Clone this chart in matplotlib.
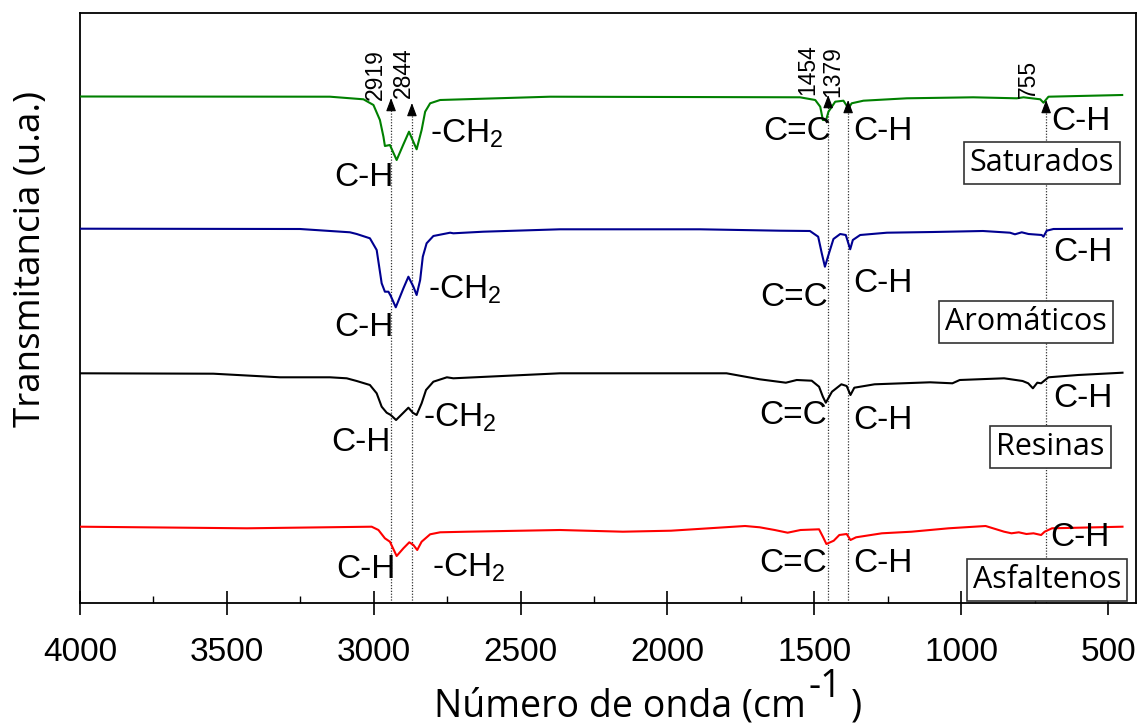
import matplotlib
matplotlib.use("Agg")
import matplotlib.pyplot as plt
from matplotlib.ticker import MultipleLocator

plt.rcParams["font.family"] = ["Liberation Sans", "DejaVu Sans"]
plt.rcParams["mathtext.fontset"] = "custom"
plt.rcParams["mathtext.rm"] = "Liberation Sans"
plt.rcParams["mathtext.it"] = "Liberation Sans:italic"

# Saturados (green)
sat_wn = [4000, 3149, 3035, 3001, 2979, 2967, 2962, 2945, 2922, 2900,
          2880, 2854, 2837, 2825, 2808, 2774, 2400, 1549, 1497, 1480,
          1471, 1460, 1452, 1429, 1401, 1384, 1373, 1333, 1185, 959,
          811, 788, 731, 720, 703, 452]
sat_t = [506.5, 506.3, 503.7, 498, 483, 466.3, 457, 458, 443, 458,
         471.3, 453.7, 473, 491.3, 499.7, 503, 506.3, 505.7, 503, 496.3,
         483, 483, 491.3, 501.3, 502.3, 494.7, 499.7, 502.3, 504.7, 505.7,
         504.7, 505.7, 503.7, 500.3, 506.3, 508]

# Aromaticos (blue)
aro_wn = [4000, 3251, 3081, 3058, 3013, 2990, 2973, 2962, 2950, 2942,
          2925, 2899, 2882, 2865, 2854, 2842, 2833, 2820, 2797, 2740,
          2729, 2627, 2366, 1889, 1617, 1515, 1487, 1475, 1464, 1452,
          1435, 1412, 1393, 1378, 1369, 1344, 1253, 1096, 926, 834,
          817, 794, 771, 726, 720, 709, 686, 453]
aro_t = [374.3, 374, 370.7, 369, 364.7, 353, 319.7, 311.3, 311.3, 307,
         295.7, 314.7, 326.3, 316.3, 308, 323, 346.3, 359.7, 367, 370.3,
         369.7, 371.3, 373.7, 373.7, 372.3, 372, 366.3, 350, 336.3, 348,
         364, 369, 368, 353.7, 363, 368, 370.3, 371, 372, 370.3,
         368.7, 370.7, 369, 368, 366.3, 372.3, 374, 374.3]

# Resinas (black)
res_wn = [4000, 3546, 3319, 3149, 3092, 3058, 3013, 2990, 2973, 2956,
          2942, 2924, 2899, 2882, 2867, 2854, 2837, 2822, 2797, 2751,
          2729, 2366, 1799, 1748, 1686, 1597, 1560, 1509, 1484, 1471,
          1461, 1440, 1408, 1390, 1377, 1364, 1295, 1106, 1030, 1005,
          854, 791, 772, 756, 741, 728, 703, 602, 451]
res_t = [229.7, 229.3, 225.7, 225.7, 224.7, 222, 218, 209.7, 196.3, 190.3,
         188, 183, 190.3, 195.3, 190.3, 188, 199.7, 213, 221.3, 225.7,
         224.7, 229.7, 229.7, 227, 223.7, 220.3, 223, 222.3, 216.3, 206.3,
         200.3, 211.3, 218.7, 217, 208, 215.3, 218.7, 220.7, 219.7, 223,
         224.7, 222, 219.7, 214.7, 220.3, 219.7, 225.7, 228, 230.3]

# Asfaltenos (red)
asf_wn = [4000, 3432, 3007, 2984, 2962, 2945, 2922, 2899, 2879, 2865,
          2852, 2837, 2808, 2774, 2683, 2366, 2152, 1988, 1736, 1686,
          1635, 1591, 1547, 1484, 1471, 1459, 1434, 1415, 1390, 1377,
          1358, 1270, 1169, 1043, 917, 854, 829, 804, 778, 754,
          728, 716, 691, 451]
asf_t = [76.3, 74.7, 76.3, 73, 64.7, 61.3, 47, 54.7, 60.7, 58,
         53, 61.3, 68.7, 70.7, 71.3, 73, 71.3, 72.3, 77, 75.7,
         73, 70.3, 73, 73.7, 66.3, 59, 62.3, 68, 69, 63,
         65.7, 69.7, 71.3, 74.7, 77, 71.3, 69.7, 70.7, 69, 69.7,
         68, 71.3, 74.7, 76.3]

series_names = ["Saturados", "Aromáticos", "Resinas", "Asfaltenos"]
peak_labels = ["2919", "2844", "1454", "1379", "755"]

fig = plt.figure(figsize=(11.4, 7.28), dpi=100)
ax = fig.add_axes([80 / 1140, 1 - 603 / 728, 1056 / 1140, 590 / 728])

ax.plot(sat_wn, sat_t, color="#008000", lw=1.5, zorder=3)
ax.plot(aro_wn, aro_t, color="#000090", lw=1.5, zorder=3)
ax.plot(res_wn, res_t, color="black", lw=1.5, zorder=3)
ax.plot(asf_wn, asf_t, color="#ff0000", lw=1.5, zorder=3)

ax.set_xlim(4000, 405)
ax.set_ylim(0, 590)

# dotted marker lines with arrow heads and rotated wavenumber labels
line_x = [2941, 2870, 1453, 1385, 711]
tip_y = [505, 500, 508, 503, 503]
lab_pos = [(2996, 503), (2900, 505), (1521, 508), (1436, 506), (772, 505)]
for lx, ty, lab, (tx, tyl) in zip(line_x, tip_y, peak_labels, lab_pos):
    ax.plot([lx, lx], [0, ty - 8], ls=(0, (1, 1.3)), color="#333333", lw=0.9, zorder=2)
    ax.annotate("", xy=(lx, ty), xytext=(lx, ty - 12),
                arrowprops=dict(arrowstyle="-|>,head_length=0.8,head_width=0.3",
                                color="black", lw=0.8, shrinkA=0, shrinkB=0))
    ax.text(tx, tyl, lab, rotation=90, ha="center", va="bottom", fontsize=16.5)

# band assignments for each trace
fs = 24
ch_left = [(3033, 425), (3035, 276), (3045, 161), (3026, 33)]
ch2_left = [(2808, 469), (2815, 313), (2833, 185), (2803, 35)]
cc = [(1559, 471), (1569, 306), (1572, 188), (1572, 40)]
ch_mid = [(1266, 471), (1266, 320), (1266, 183), (1266, 40)]
ch_right = [(592, 481), (585, 351), (585, 205), (595, 66)]
for i in range(4):
    ax.text(*ch_left[i], "C-H", ha="center", va="center", fontsize=fs)
    ax.text(*ch2_left[i], "-CH$_2$", ha="left", va="center", fontsize=fs)
    ax.text(*cc[i], "C=C", ha="center", va="center", fontsize=fs)
    ax.text(*ch_mid[i], "C-H", ha="center", va="center", fontsize=fs)
    ax.text(*ch_right[i], "C-H", ha="center", va="center", fontsize=fs)

box_pos = [(725, 440), (779, 281), (697, 156), (708, 23)]
for name, (bx, by) in zip(series_names, box_pos):
    ax.text(bx, by, name, ha="center", va="center", fontsize=22,
            family=["Open Sans", "DejaVu Sans"],
            bbox=dict(boxstyle="square,pad=0.2", fc="white", ec="#333333", lw=1.2))

ax.set_yticks([])
ax.xaxis.set_major_locator(MultipleLocator(500))
ax.xaxis.set_minor_locator(MultipleLocator(250))
ax.tick_params(axis="x", which="major", direction="inout", length=17, width=1.2,
               labelsize=24, pad=16)
ax.tick_params(axis="x", which="minor", direction="in", length=5, width=1.0)
for sp in ax.spines.values():
    sp.set_linewidth(1.3)

# axis titles
fig.text(31 / 1140, 1 - 259 / 728, "Transmitancia (u.a.)", rotation=90,
         ha="center", va="center", fontsize=26.5, family=["Open Sans", "DejaVu Sans"])
fig.text(806 / 1140, 1 - 716 / 728, "Número de onda (cm", ha="right", va="baseline",
         fontsize=27, family=["Open Sans", "DejaVu Sans"])
fig.text(808 / 1140, 1 - 697 / 728, "-1", ha="left", va="baseline",
         fontsize=27, family=["Open Sans", "DejaVu Sans"])
fig.text(851 / 1140, 1 - 716 / 728, ")", ha="left", va="baseline",
         fontsize=27, family=["Open Sans", "DejaVu Sans"])

fig.savefig("out.png", dpi=100)
